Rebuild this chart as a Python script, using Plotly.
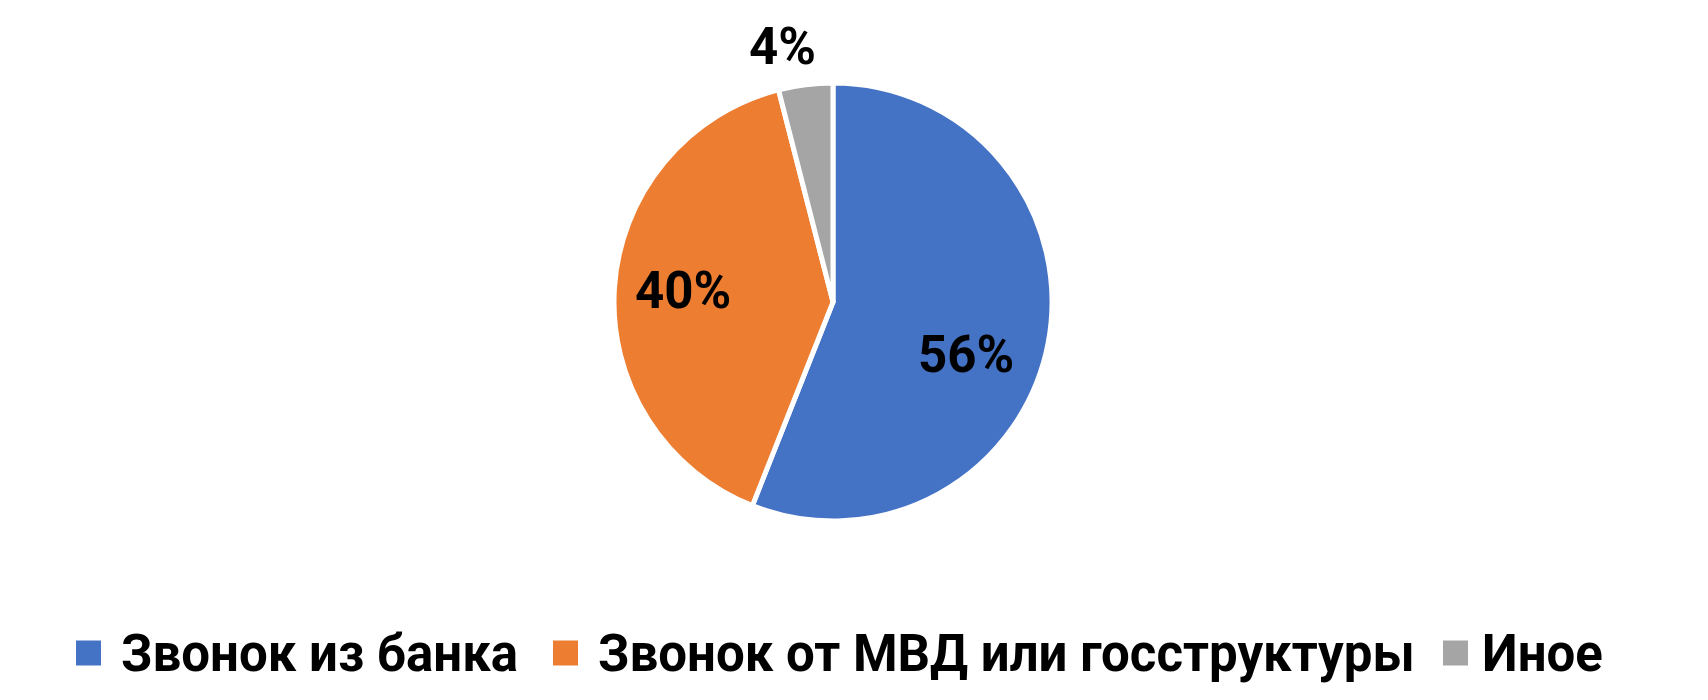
import math
import plotly.graph_objects as go

categories = ["Звонок из банка", "Звонок от МВД или госструктуры", "Иное"]
values = [56, 40, 4]
colors = ["#4472C4", "#ED7D31", "#A5A5A5"]

FONT = "Roboto, Open Sans, sans-serif"
FSIZE = 51

W, H = 1708, 700
cx, cy, r = 833, 302, 219

# label placement style (radius fraction, angle nudge in degrees)
LABEL_R = [0.653, 0.687, 1.19]
LABEL_DANGLE = [10.6, 0.6, -4.0]

# legend layout (pixels)
LEG_SQ_X = [76, 553, 1443]
LEG_TXT_X = [119, 596, 1480]
LEG_Y = 653
LEG_SQ = 25

fig = go.Figure(go.Pie(
    labels=categories,
    values=values,
    sort=False,
    direction="clockwise",
    rotation=0,
    marker=dict(colors=colors, line=dict(color="white", width=5)),
    textinfo="none",
    domain=dict(x=[(cx - r) / W, (cx + r) / W], y=[(H - cy - r) / H, (H - cy + r) / H]),
    hoverinfo="label+percent",
    showlegend=False,
))

total = sum(values)
start = 0.0
for i, v in enumerate(values):
    frac = v / total
    mid = (start + frac / 2) * 360 + LABEL_DANGLE[i]
    start += frac
    a = math.radians(mid)
    dx = LABEL_R[i] * r * math.sin(a)
    dy = -LABEL_R[i] * r * math.cos(a)
    fig.add_annotation(
        x=(cx + dx) / W, y=1 - (cy + dy) / H, xref="paper", yref="paper",
        text=f"<b>{round(frac * 100)}%</b>", showarrow=False,
        xanchor="center", yanchor="middle",
        font=dict(family=FONT, size=FSIZE, color="black"),
    )

for i, name in enumerate(categories):
    fig.add_shape(
        type="rect", xref="paper", yref="paper",
        x0=LEG_SQ_X[i] / W, x1=(LEG_SQ_X[i] + LEG_SQ) / W,
        y0=1 - (LEG_Y + LEG_SQ / 2) / H, y1=1 - (LEG_Y - LEG_SQ / 2) / H,
        fillcolor=colors[i], line=dict(width=0),
    )
    fig.add_annotation(
        x=LEG_TXT_X[i] / W, y=1 - LEG_Y / H, xref="paper", yref="paper",
        text=f"<b>{name}</b>", showarrow=False,
        xanchor="left", yanchor="middle",
        font=dict(family=FONT, size=FSIZE, color="black"),
    )

fig.update_layout(
    width=W, height=H,
    margin=dict(l=0, r=0, t=0, b=0),
    paper_bgcolor="white",
    plot_bgcolor="white",
    font=dict(family=FONT, color="black"),
    showlegend=False,
)

fig.write_html(
    "out.html",
    config={"displayModeBar": False},
    post_script="document.body.style.margin='0';document.body.style.overflow='hidden';",
)
